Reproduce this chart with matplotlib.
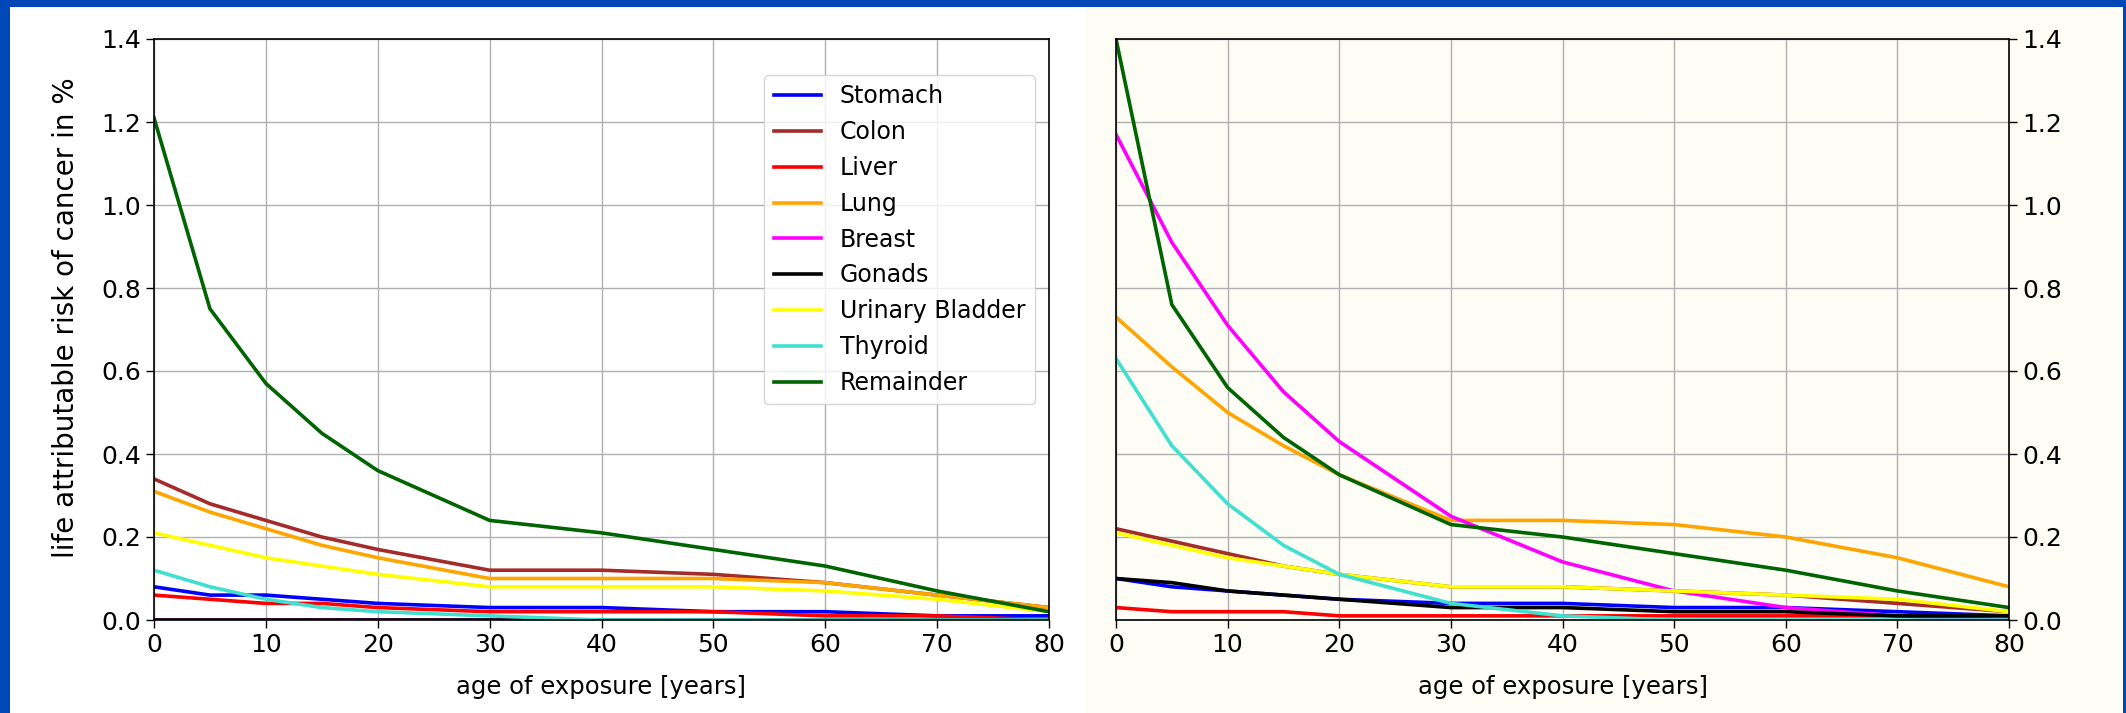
import matplotlib
matplotlib.use('Agg')
import matplotlib.pyplot as plt
from matplotlib.patches import Rectangle
import numpy as np

# ages at exposure
ages = [0, 5, 10, 15, 20, 30, 40, 50, 60, 70, 80]

organs = ['Stomach', 'Colon', 'Liver', 'Lung', 'Breast', 'Gonads',
          'Urinary Bladder', 'Thyroid', 'Remainder']
colors = ['blue', 'brown', 'red', 'orange', 'magenta', 'black',
          'yellow', 'turquoise', 'darkgreen']

# left panel (male), life attributable risk in %
m_stomach = [0.08, 0.06, 0.06, 0.05, 0.04, 0.03, 0.03, 0.02, 0.02, 0.01, 0.01]
m_colon = [0.34, 0.28, 0.24, 0.20, 0.17, 0.12, 0.12, 0.11, 0.09, 0.06, 0.03]
m_liver = [0.06, 0.05, 0.04, 0.04, 0.03, 0.02, 0.02, 0.02, 0.01, 0.01, 0.00]
m_lung = [0.31, 0.26, 0.22, 0.18, 0.15, 0.10, 0.10, 0.10, 0.09, 0.06, 0.03]
m_breast = [0.0, 0.0, 0.0, 0.0, 0.0, 0.0, 0.0, 0.0, 0.0, 0.0, 0.0]
m_gonads = [0.0, 0.0, 0.0, 0.0, 0.0, 0.0, 0.0, 0.0, 0.0, 0.0, 0.0]
m_bladder = [0.21, 0.18, 0.15, 0.13, 0.11, 0.08, 0.08, 0.08, 0.07, 0.05, 0.02]
m_thyroid = [0.12, 0.08, 0.05, 0.03, 0.02, 0.01, 0.00, 0.00, 0.00, 0.00, 0.00]
m_remainder = [1.21, 0.75, 0.57, 0.45, 0.36, 0.24, 0.21, 0.17, 0.13, 0.07, 0.02]

# right panel (female)
f_stomach = [0.10, 0.08, 0.07, 0.06, 0.05, 0.04, 0.04, 0.03, 0.03, 0.02, 0.01]
f_colon = [0.22, 0.19, 0.16, 0.13, 0.11, 0.08, 0.08, 0.07, 0.06, 0.04, 0.02]
f_liver = [0.03, 0.02, 0.02, 0.02, 0.01, 0.01, 0.01, 0.01, 0.01, 0.01, 0.00]
f_lung = [0.73, 0.61, 0.50, 0.42, 0.35, 0.24, 0.24, 0.23, 0.20, 0.15, 0.08]
f_breast = [1.17, 0.91, 0.71, 0.55, 0.43, 0.25, 0.14, 0.07, 0.03, 0.01, 0.00]
f_gonads = [0.10, 0.09, 0.07, 0.06, 0.05, 0.03, 0.03, 0.02, 0.02, 0.01, 0.01]
f_bladder = [0.21, 0.18, 0.15, 0.13, 0.11, 0.08, 0.08, 0.07, 0.06, 0.05, 0.02]
f_thyroid = [0.63, 0.42, 0.28, 0.18, 0.11, 0.04, 0.01, 0.00, 0.00, 0.00, 0.00]
f_remainder = [1.40, 0.76, 0.56, 0.44, 0.35, 0.23, 0.20, 0.16, 0.12, 0.07, 0.03]

male = [m_stomach, m_colon, m_liver, m_lung, m_breast, m_gonads,
        m_bladder, m_thyroid, m_remainder]
female = [f_stomach, f_colon, f_liver, f_lung, f_breast, f_gonads,
          f_bladder, f_thyroid, f_remainder]

W, H = 2126, 713
fig = plt.figure(figsize=(W / 100, H / 100), dpi=100)
fig.patch.set_facecolor('#0047B8')
fig.patches.append(Rectangle((10 / W, 0), (1085 - 10) / W, (H - 7) / H,
                             transform=fig.transFigure, facecolor='white',
                             edgecolor='none', zorder=-5))
fig.patches.append(Rectangle((1085 / W, 0), (2123 - 1085) / W, (H - 7) / H,
                             transform=fig.transFigure, facecolor='#FDFDF6',
                             edgecolor='none', zorder=-5))

ax1 = fig.add_axes([154 / W, (H - 620) / H, 895 / W, 581 / H])
ax2 = fig.add_axes([1116 / W, (H - 620) / H, 893 / W, 581 / H])
ax2.set_facecolor('#FDFDF6')

for name, c, vals in zip(organs, colors, male):
    ax1.plot(ages, vals, color=c, lw=2.6, label=name)
for name, c, vals in zip(organs, colors, female):
    ax2.plot(ages, vals, color=c, lw=2.6, label=name)

for ax in (ax1, ax2):
    ax.set_xlim(0, 80)
    ax.set_ylim(0, 1.4)
    ax.set_xticks(np.arange(0, 81, 10))
    ax.set_yticks(np.arange(0, 1.41, 0.2))
    ax.yaxis.set_major_formatter(matplotlib.ticker.FormatStrFormatter('%.1f'))
    ax.grid(True, color='#b0b0b0', lw=1)
    ax.tick_params(labelsize=18, length=6, width=1)
    ax.set_xlabel('age of exposure [years]', fontsize=17.5)
    ax.xaxis.set_label_coords(0.5, -0.095)
    for sp in ax.spines.values():
        sp.set_linewidth(1.2)

ax1.set_ylabel('life attributable risk of cancer in %', fontsize=20)
ax1.yaxis.set_label_coords(-0.083, 0.52)
ax2.yaxis.tick_right()

ax1.legend(loc='upper right', bbox_to_anchor=(0.984, 0.938), borderaxespad=0,
           fontsize=17)

fig.savefig('out.png', dpi=100, facecolor=fig.get_facecolor())
